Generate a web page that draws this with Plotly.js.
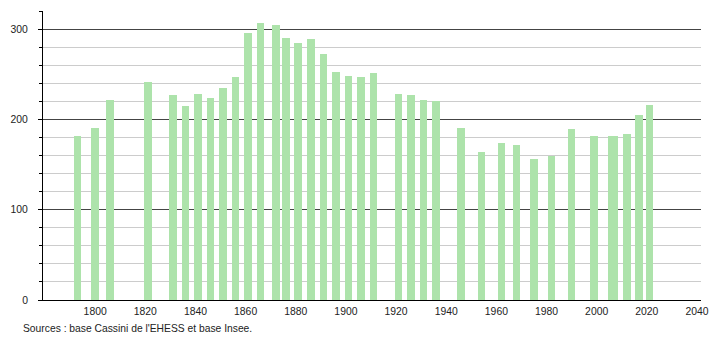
<!DOCTYPE html>
<html>
<head>
<meta charset="utf-8">
<script src="https://cdn.plot.ly/plotly-3.0.1.min.js"></script>
<style>html,body{margin:0;padding:0;background:#fff;}#chart{width:710px;height:340px;}</style>
</head>
<body>
<div id="chart"></div>
<script>
const years = [1793,1800,1806,1821,1831,1836,1841,1846,1851,1856,1861,1866,1872,1876,1881,1886,1891,1896,1901,1906,1911,1921,1926,1931,1936,1946,1954,1962,1968,1975,1982,1990,1999,2006,2007,2012,2017,2021];
const population = [182,190,221,241,227,215,228,224,235,247,296,307,304,290,285,289,272,253,248,247,251,228,227,222,220,191,164,174,172,156,160,189,182,182,182,184,205,216];
const xTickLabels = ["1800","1820","1840","1860","1880","1900","1920","1940","1960","1980","2000","2020","2040"];
const xTickVals = xTickLabels.map(Number);
const sourceText = "Sources : base Cassini de l'EHESS et base Insee.";

const trace = {
  type: 'bar',
  x: years,
  y: population,
  width: years.map(() => 3.05),
  marker: {color: 'rgb(173,227,171)', line: {width: 0}},
  hoverinfo: 'x+y'
};

const layout = {
  width: 710,
  height: 340,
  margin: {l: 43, r: 9, t: 11, b: 40, pad: 0},
  paper_bgcolor: '#fff',
  plot_bgcolor: '#fff',
  font: {family: '"Liberation Sans", Arial, sans-serif', size: 10.4, color: '#222'},
  showlegend: false,
  bargap: 0,
  xaxis: {
    range: [1779.2, 2041.6],
    tickmode: 'array',
    tickvals: xTickVals,
    ticktext: xTickLabels,
    showgrid: false,
    zeroline: false,
    showline: true,
    linecolor: '#000',
    linewidth: 1,
    ticks: '',
    ticklabelstandoff: 2,
    fixedrange: true
  },
  yaxis: {
    range: [0, 320],
    tickmode: 'linear',
    tick0: 0,
    dtick: 100,
    showgrid: true,
    gridcolor: '#444',
    gridwidth: 1,
    zeroline: false,
    showline: true,
    linecolor: '#000',
    linewidth: 1,
    ticks: 'outside',
    ticklen: 4,
    tickcolor: '#000',
    ticklabelstandoff: 8,
    minor: {
      dtick: 20,
      showgrid: true,
      gridcolor: '#cccccc',
      gridwidth: 1,
      ticks: 'outside',
      ticklen: 3,
      tickcolor: '#000'
    },
    fixedrange: true
  },
  annotations: [{
    text: sourceText,
    xref: 'paper', yref: 'paper',
    x: -0.034, y: -0.100,
    xanchor: 'left', yanchor: 'middle',
    showarrow: false,
    font: {size: 10.3, color: '#222'}
  }]
};

Plotly.newPlot('chart', [trace], layout, {displayModeBar: false, staticPlot: true});
</script>
</body>
</html>
